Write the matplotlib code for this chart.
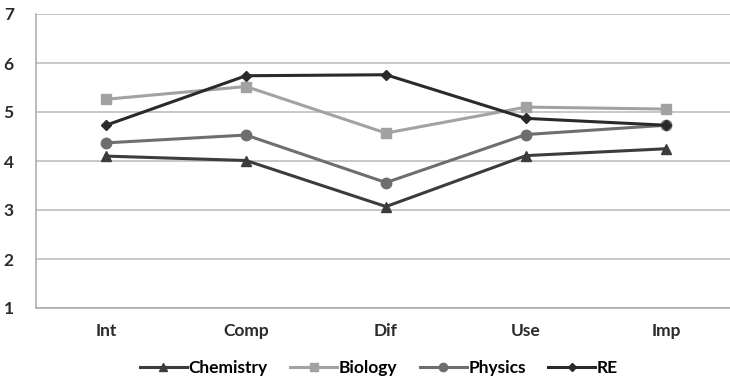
import matplotlib
matplotlib.use("Agg")
import matplotlib.pyplot as plt
import numpy as np

# Mean scores per subject across the five scales
categories = ["Int", "Comp", "Dif", "Use", "Imp"]
chemistry = [4.10, 4.01, 3.07, 4.11, 4.25]
biology = [5.26, 5.52, 4.57, 5.10, 5.06]
physics = [4.37, 4.53, 3.56, 4.54, 4.73]
re_scores = [4.73, 5.74, 5.76, 4.87, 4.73]

plt.rcParams["font.family"] = ["Lato", "DejaVu Sans"]
plt.rcParams["font.weight"] = "bold"

fig = plt.figure(figsize=(7.3, 3.76), dpi=100)
# axes box from pixel x 36..736, y 14..308 (top-down)
ax = fig.add_axes([36 / 730, 1 - 308 / 376, 700 / 730, 294 / 376])

x = np.arange(len(categories))
ax.plot(x, chemistry, color="#3c3c3c", lw=2.2, marker="^", ms=7, label="Chemistry")
ax.plot(x, biology, color="#a2a2a2", lw=2.2, marker="s", ms=7, label="Biology")
ax.plot(x, physics, color="#6e6e6e", lw=2.2, marker="o", ms=7.5, label="Physics")
ax.plot(x, re_scores, color="#2a2a2a", lw=2.2, marker="D", ms=5.5, label="RE")

ax.set_xlim(-0.5, 4.5)
ax.set_ylim(1, 7)
ax.set_yticks(range(1, 8))
ax.set_xticks(x)
ax.set_xticklabels(categories)
ax.yaxis.grid(True, color="#b8b8b8", lw=1.1)
ax.set_axisbelow(True)
for side in ("top", "right"):
    ax.spines[side].set_visible(False)
ax.spines["left"].set_color("#a8a8a8")
ax.spines["bottom"].set_color("#a8a8a8")
ax.spines["left"].set_linewidth(1.1)
ax.spines["bottom"].set_linewidth(1.1)
ax.tick_params(length=0, labelsize=12.5, colors="#2a2a2a")
ax.tick_params(axis="y", pad=16)
ax.tick_params(axis="x", pad=11)

ax.legend(loc="upper center", bbox_to_anchor=(0.49, -0.125), ncol=4, frameon=False,
          fontsize=12.5, handlelength=2.7, handletextpad=0.1, columnspacing=1.3,
          markerscale=0.8)

fig.savefig("out.png", dpi=100)
